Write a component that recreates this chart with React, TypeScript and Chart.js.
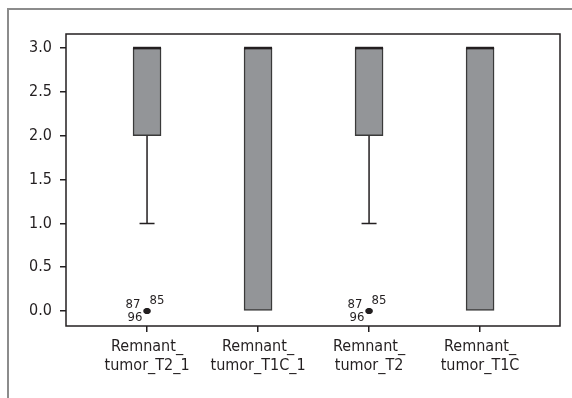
import React, { useEffect, useRef } from "react";
import { Chart, registerables } from "chart.js";
Chart.register(...registerables);

const categories: string[][] = [
  ["Remnant_", "tumor_T2_1"],
  ["Remnant_", "tumor_T1C_1"],
  ["Remnant_", "tumor_T2"],
  ["Remnant_", "tumor_T1C"],
];
const q1 = [2, 0, 2, 0];
const q3 = [3, 3, 3, 3];
const medians = [3, 3, 3, 3];
const whiskerLow = [1, 0, 1, 0];
const whiskerHigh = [3, 3, 3, 3];
const outlierValues: (number | null)[] = [0, null, 0, null];
const outlierLabels: string[][] = [["87", "85", "96"], [], ["87", "85", "96"], []];
const yTicks = [0, 0.5, 1, 1.5, 2, 2.5, 3];

const FONT = "'DejaVu Sans Condensed', 'Liberation Sans Narrow', 'Liberation Sans', sans-serif";
const INK = "#231f20";

const boxPlugin = {
  id: "boxExtras",
  beforeDraw(chart: any) {
    const ctx = chart.ctx;
    ctx.save();
    ctx.fillStyle = "#ffffff";
    ctx.fillRect(0, 0, chart.width, chart.height);
    ctx.strokeStyle = "#8c8c8c";
    ctx.lineWidth = 2;
    ctx.beginPath();
    ctx.moveTo(8, chart.height);
    ctx.lineTo(8, 9);
    ctx.lineTo(chart.width, 9);
    ctx.stroke();
    ctx.restore();
  },
  afterDatasetsDraw(chart: any) {
    const ctx = chart.ctx;
    const xs = chart.scales.x;
    const ys = chart.scales.y;
    ctx.save();
    ctx.strokeStyle = INK;
    for (let i = 0; i < categories.length; i++) {
      const x = xs.getPixelForValue(i + 1);
      ctx.lineWidth = 1.5;
      if (whiskerLow[i] < q1[i]) {
        const yb = ys.getPixelForValue(q1[i]);
        const yl = ys.getPixelForValue(whiskerLow[i]);
        ctx.beginPath();
        ctx.moveTo(x, yb);
        ctx.lineTo(x, yl);
        ctx.moveTo(x - 7.5, yl);
        ctx.lineTo(x + 7.5, yl);
        ctx.stroke();
      }
      if (whiskerHigh[i] > q3[i]) {
        const yt = ys.getPixelForValue(q3[i]);
        const yh = ys.getPixelForValue(whiskerHigh[i]);
        ctx.beginPath();
        ctx.moveTo(x, yt);
        ctx.lineTo(x, yh);
        ctx.moveTo(x - 7.5, yh);
        ctx.lineTo(x + 7.5, yh);
        ctx.stroke();
      }
      const ym = ys.getPixelForValue(medians[i]);
      ctx.lineWidth = 2.5;
      ctx.beginPath();
      ctx.moveTo(x - 14, ym);
      ctx.lineTo(x + 14, ym);
      ctx.stroke();

      const ov = outlierValues[i];
      if (ov !== null && outlierLabels[i].length) {
        const yo = ys.getPixelForValue(ov);
        ctx.fillStyle = INK;
        ctx.beginPath();
        ctx.ellipse(x, yo, 3.8, 2.8, 0, 0, Math.PI * 2);
        ctx.fill();
        ctx.font = "13px " + FONT;
        ctx.textAlign = "center";
        ctx.textBaseline = "middle";
        const offs = [
          [-14, -6],
          [10, -10],
          [-12, 7],
        ];
        outlierLabels[i].forEach((t, k) => {
          const o = offs[k % offs.length];
          ctx.fillText(t, x + o[0], yo + o[1]);
        });
      }
    }
    const a = chart.chartArea;
    ctx.lineWidth = 1.5;
    ctx.strokeStyle = INK;
    ctx.strokeRect(a.left, a.top, a.right - a.left, a.bottom - a.top);
    ctx.restore();
  },
};

export default function App() {
  const ref = useRef<HTMLCanvasElement | null>(null);
  useEffect(() => {
    if (!ref.current) return;
    const boxData = categories.map((_, i) => ({ x: i + 1, y: [q1[i], q3[i]] }));
    const outData: { x: number; y: number }[] = [];
    outlierValues.forEach((v, i) => {
      if (v !== null) outData.push({ x: i + 1, y: v });
    });
    const chart = new Chart(ref.current, {
      type: "bar",
      data: {
        datasets: [
          {
            type: "bar",
            data: boxData as any,
            backgroundColor: "#939598",
            borderColor: "#3a3a3a",
            borderWidth: 1.5,
            borderSkipped: false,
            barThickness: 28,
          } as any,
          {
            type: "scatter",
            data: outData,
            pointRadius: 3,
            pointBackgroundColor: "#000",
            pointBorderColor: "#000",
            pointBorderWidth: 0,
            showLine: false,
          } as any,
        ],
      },
      options: {
        responsive: false,
        animation: false,
        events: [],
        layout: { padding: { top: 34, right: 12, left: 0, bottom: 0 } },
        plugins: { legend: { display: false }, tooltip: { enabled: false } },
        scales: {
          x: {
            type: "linear",
            min: 0.27,
            max: 4.72,
            offset: false,
            afterBuildTicks: (s: any) => {
              s.ticks = categories.map((_, i) => ({ value: i + 1 }));
            },
            afterFit: (s: any) => {
              s.height = 72;
            },
            grid: {
              offset: false,
              drawOnChartArea: false,
              drawTicks: true,
              tickLength: 6,
              color: INK,
              lineWidth: 1.5,
            },
            border: { display: false },
            ticks: {
              autoSkip: false,
              maxRotation: 0,
              padding: 6,
              color: INK,
              font: { family: FONT, size: 16, lineHeight: 1.15 },
              callback: (v: any) => categories[Math.round(Number(v)) - 1] || "",
            },
          },
          y: {
            type: "linear",
            min: -0.17,
            max: 3.16,
            afterBuildTicks: (s: any) => {
              s.ticks = yTicks.map((v) => ({ value: v }));
            },
            afterFit: (s: any) => {
              s.width = 66;
            },
            grid: {
              drawOnChartArea: false,
              drawTicks: true,
              tickLength: 6,
              color: INK,
              lineWidth: 1.5,
            },
            border: { display: false },
            ticks: {
              padding: 8,
              color: INK,
              font: { family: FONT, size: 16 },
              callback: (v: any) => Number(v).toFixed(1),
            },
          },
        },
      },
      plugins: [boxPlugin],
    } as any);
    return () => chart.destroy();
  }, []);
  return (
    <div style={{ position: "fixed", left: 0, top: 0, width: 572, height: 398 }}>
      <canvas ref={ref} width={572} height={398} style={{ display: "block" }} />
    </div>
  );
}
